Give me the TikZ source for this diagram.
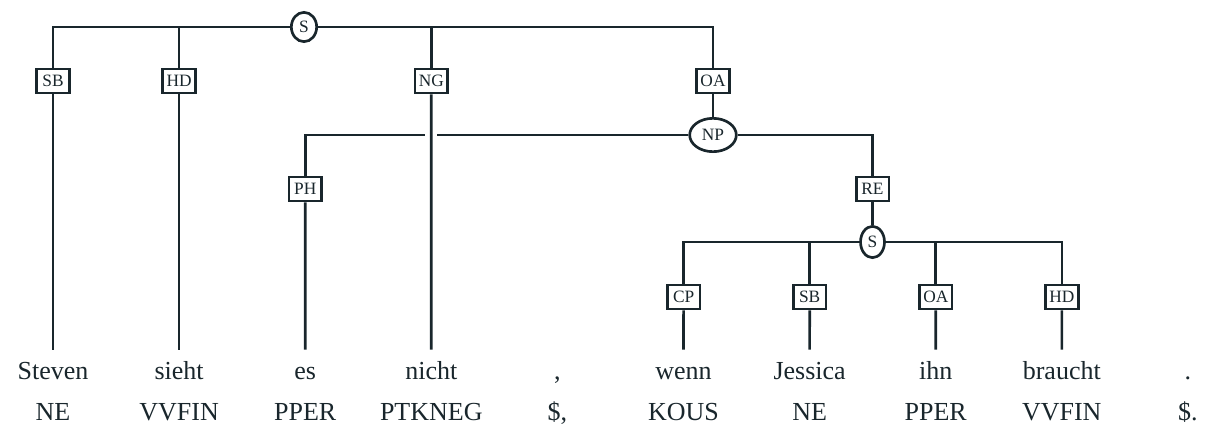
\documentclass[tikz,border=0pt]{standalone}
\usepackage{fontspec}
\setmainfont{Liberation Serif}
\usetikzlibrary{shapes.geometric,calc}
\definecolor{ink}{RGB}{25,38,44}
\begin{document}
\begin{tikzpicture}[x=0.75pt,y=-0.75pt,
  line width=2pt, draw=ink,
  wordnode/.style={anchor=base, inner sep=0pt, text height=21pt, text depth=0pt, font=\fontsize{19.5}{20}\selectfont, text=ink},
  posnode/.style={anchor=base, inner sep=0pt, font=\fontsize{19.5}{20}\selectfont, text=ink},
  edgebox/.style={draw=ink, rectangle, minimum width=24.5pt, minimum height=18pt, inner sep=0pt, font=\fontsize{13}{14}\selectfont, text=ink, fill=white},
  catnode/.style={draw=ink, ellipse, inner sep=0pt, font=\fontsize{13}{14}\selectfont, text=ink, fill=white},
  halo/.style={draw=white, line width=9pt}
]
\useasboundingbox (0,0) rectangle (1217,425);
% words and tags
\foreach \i/\w/\p in {1/Steven/NE, 2/sieht/VVFIN, 3/es/PPER, 4/nicht/PTKNEG, 5/{,}/{\$,}, 6/wenn/KOUS, 7/Jessica/NE, 8/ihn/PPER, 9/braucht/VVFIN, 10/./{\$.}}{
  \node[wordnode] (w\i) at ({53+126.1*(\i-1)},379) {\w};
  \node[posnode] (p\i) at ({53+126.1*(\i-1)},420) {\p};
}
% top S
\node[catnode, minimum width=19pt, minimum height=22pt] (s1) at (304,27) {S};
\node[edgebox] (sb1) at (53,81) {SB};
\node[edgebox] (hd1) at (179.1,81) {HD};
\node[edgebox] (ng1) at (431.3,81) {NG};
\node[edgebox] (oa1) at (713,81) {OA};
% NP
\node[catnode, minimum width=35pt, minimum height=25pt] (np) at (713,135) {NP};
\node[edgebox] (ph) at (305.2,189) {PH};
\node[edgebox] (re) at (872.5,189) {RE};
% lower S
\node[catnode, minimum width=18pt, minimum height=23.5pt] (s2) at (872.5,242) {S};
\node[edgebox] (cp) at (683.6,297) {CP};
\node[edgebox] (sb2) at (809.7,297) {SB};
\node[edgebox] (oa2) at (935.8,297) {OA};
\node[edgebox] (hd2) at (1061.9,297) {HD};
% connectors of top S
\draw (s1) -| (sb1);
\draw (s1) -| (hd1);
\draw (s1) -| (ng1);
\draw (s1) -| (oa1);
\draw (sb1) -- (w1);
\draw (hd1) -- (w2);
\draw (oa1) -- (np);
% NP connectors
\draw (np) -| (ph);
\draw (np) -| (re);
\draw (ph) -- (w3);
% crossing gap
\draw[halo] ($(ng1.south |- np.center)+(0,-2.5)$) -- ($(ng1.south |- np.center)+(0,2.5)$);
\draw (ng1) -- (w4);
% lower S connectors
\draw (re) -- (s2);
\draw (s2) -| (cp);
\draw (s2) -| (sb2);
\draw (s2) -| (oa2);
\draw (s2) -| (hd2);
\draw (cp) -- (w6);
\draw (sb2) -- (w7);
\draw (oa2) -- (w8);
\draw (hd2) -- (w9);
\end{tikzpicture}
\end{document}
